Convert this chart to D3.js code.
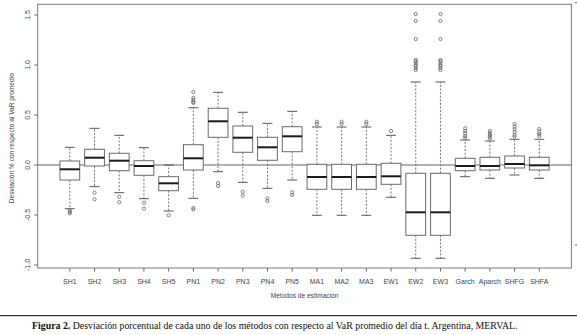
<!DOCTYPE html>
<html><head><meta charset="utf-8">
<script src="https://cdn.jsdelivr.net/npm/d3@7"></script>
<style>body{margin:0;background:#fff}svg{display:block}</style>
</head><body>
<svg id="c" width="577" height="335"></svg>
<script>
const categories = ["SH1","SH2","SH3","SH4","SH5","PN1","PN2","PN3","PN4","PN5","MA1","MA2","MA3","EW1","EW2","EW3","Garch","Aparch","SHFG","SHFA"];
const whiskerLow = [-0.437,-0.217,-0.277,-0.337,-0.46,-0.333,-0.067,-0.173,-0.233,-0.15,-0.503,-0.503,-0.503,-0.323,-0.933,-0.933,-0.117,-0.133,-0.10,-0.133];
const q1 =         [-0.15,-0.01,-0.057,-0.103,-0.257,-0.05,0.277,0.127,0.047,0.133,-0.243,-0.243,-0.243,-0.193,-0.703,-0.703,-0.057,-0.05,-0.03,-0.05];
const medians =    [-0.043,0.073,0.043,-0.01,-0.183,0.067,0.437,0.273,0.177,0.287,-0.12,-0.12,-0.12,-0.113,-0.473,-0.473,-0.01,-0.01,0.01,-0.003];
const q3 =         [0.04,0.157,0.117,0.043,-0.117,0.203,0.567,0.39,0.277,0.383,0.007,0.007,0.007,0.017,-0.083,-0.083,0.067,0.077,0.09,0.077];
const whiskerHigh =[0.177,0.367,0.297,0.173,0.0,0.573,0.727,0.527,0.417,0.537,0.38,0.38,0.38,0.297,0.83,0.83,0.25,0.24,0.257,0.257];
const outliers = [
  [-0.455,-0.47,-0.485],
  [-0.277,-0.343],
  [-0.317,-0.373],
  [-0.377,-0.437],
  [-0.503],
  [0.73,0.67,0.65,0.63,0.62,-0.43,-0.445],
  [-0.18,-0.21],
  [-0.267,-0.307],
  [-0.333,-0.36],
  [-0.273,-0.30],
  [0.433,0.41],
  [0.433,0.41],
  [0.433,0.41],
  [0.34],
  [1.51,1.44,1.26,1.05,1.04,1.02,1.0,0.99,0.97,0.95],
  [1.51,1.44,1.26,1.05,1.04,1.02,1.0,0.99,0.97,0.95],
  [0.367,0.34,0.317,0.29,0.273],
  [0.34,0.317,0.30,0.283,0.267],
  [0.41,0.383,0.357,0.33,0.30,0.283],
  [0.36,0.333,0.31,0.29]
];
const yTicks = [-1.0,-0.5,0.0,0.5,1.0,1.5];
const yTitle = "Desviación % con respecto al VaR promedio";
const xTitle = "Metodos de estimación";
const captionBold = "Figura 2.";
const captionRest = " Desviación porcentual de cada uno de los métodos con respecto al VaR promedio del día t. Argentina, MERVAL.";

const svg = d3.select("#c");
const L = 37.7, R = 571.4, T = 4.3, B = 268;
const x = d3.scaleLinear().domain([-0.3, categories.length + 1.3]).range([L, R]);
const y = d3.scaleLinear().domain([-1.03, 1.607]).range([B, T]);
const bw = 0.8 * (x(1) - x(0));
const cw = bw / 2;
const boxCol = "#6a6a6a";

// frame
svg.append("rect").attr("x", L).attr("y", T).attr("width", R - L).attr("height", B - T)
  .attr("fill", "none").attr("stroke", "#7a7a7a").attr("stroke-width", 1);

// zero line
svg.append("line").attr("x1", L).attr("x2", R).attr("y1", y(0)).attr("y2", y(0))
  .attr("stroke", "#555").attr("stroke-width", 0.9);

const g = svg.append("g");
categories.forEach((c, i) => {
  const cx = x(i + 1);
  const gg = g.append("g");
  // whiskers
  gg.append("line").attr("x1", cx).attr("x2", cx).attr("y1", y(q3[i])).attr("y2", y(whiskerHigh[i]))
    .attr("stroke", "#666").attr("stroke-dasharray", "2,1.6").attr("stroke-width", 0.9);
  gg.append("line").attr("x1", cx).attr("x2", cx).attr("y1", y(q1[i])).attr("y2", y(whiskerLow[i]))
    .attr("stroke", "#666").attr("stroke-dasharray", "2,1.6").attr("stroke-width", 0.9);
  [whiskerHigh[i], whiskerLow[i]].forEach(v => {
    gg.append("line").attr("x1", cx - cw / 2).attr("x2", cx + cw / 2).attr("y1", y(v)).attr("y2", y(v))
      .attr("stroke", "#555").attr("stroke-width", 1);
  });
  // box
  gg.append("rect").attr("x", cx - bw / 2).attr("width", bw)
    .attr("y", y(q3[i])).attr("height", y(q1[i]) - y(q3[i]))
    .attr("fill", "#fff").attr("stroke", boxCol).attr("stroke-width", 1);
  gg.append("line").attr("x1", cx - bw / 2).attr("x2", cx + bw / 2).attr("y1", y(medians[i])).attr("y2", y(medians[i]))
    .attr("stroke", "#1a1a1a").attr("stroke-width", 2);
  // outliers
  outliers[i].forEach(v => {
    gg.append("circle").attr("cx", cx).attr("cy", y(v)).attr("r", 1.6)
      .attr("fill", "none").attr("stroke", "#666").attr("stroke-width", 0.8);
  });
});

// y axis
const ya = svg.append("g");
yTicks.forEach(t => {
  ya.append("line").attr("x1", L - 3.5).attr("x2", L).attr("y1", y(t)).attr("y2", y(t)).attr("stroke", "#666");
  ya.append("text").attr("transform", `translate(${L - 8},${y(t)}) rotate(-90)`)
    .attr("text-anchor", "middle").attr("font-family", "Liberation Sans, Arial, sans-serif")
    .attr("font-size", 7).attr("fill", "#444").text(t.toFixed(1));
});
svg.append("text").attr("transform", `translate(14,${(T + B) / 2 + 2}) rotate(-90)`)
  .attr("text-anchor", "middle").attr("font-family", "Liberation Sans, Arial, sans-serif")
  .attr("font-size", 6.6).attr("fill", "#444").text(yTitle);

// x axis
const xa = svg.append("g");
categories.forEach((c, i) => {
  const cx = x(i + 1);
  xa.append("line").attr("x1", cx).attr("x2", cx).attr("y1", B).attr("y2", B + 3.5).attr("stroke", "#666");
  xa.append("text").attr("x", cx).attr("y", 283.5).attr("text-anchor", "middle")
    .attr("font-family", "Liberation Sans, Arial, sans-serif").attr("font-size", 7).attr("fill", "#444").text(c);
});
svg.append("text").attr("x", (L + R) / 2).attr("y", 298).attr("text-anchor", "middle")
  .attr("font-family", "Liberation Sans, Arial, sans-serif").attr("font-size", 6.6).attr("fill", "#444").text(xTitle);

// stray marks
svg.append("line").attr("x1", 575).attr("x2", 577).attr("y1", 2.7).attr("y2", 2.7).attr("stroke", "#666");
svg.append("line").attr("x1", 575).attr("x2", 577).attr("y1", 245).attr("y2", 245).attr("stroke", "#666");

// caption
svg.append("line").attr("x1", 0).attr("x2", 577).attr("y1", 315.7).attr("y2", 315.7).attr("stroke", "#000").attr("stroke-width", 1);
const cap = svg.append("text").attr("x", 32).attr("y", 329)
  .attr("font-family", "Liberation Serif, Times New Roman, serif").attr("font-size", 11).attr("fill", "#111");
cap.append("tspan").attr("font-weight", "bold").text(captionBold);
cap.append("tspan").text(captionRest);
const len = cap.node().getComputedTextLength();
cap.attr("font-size", 11 * 486 / len);
</script>
</body></html>
